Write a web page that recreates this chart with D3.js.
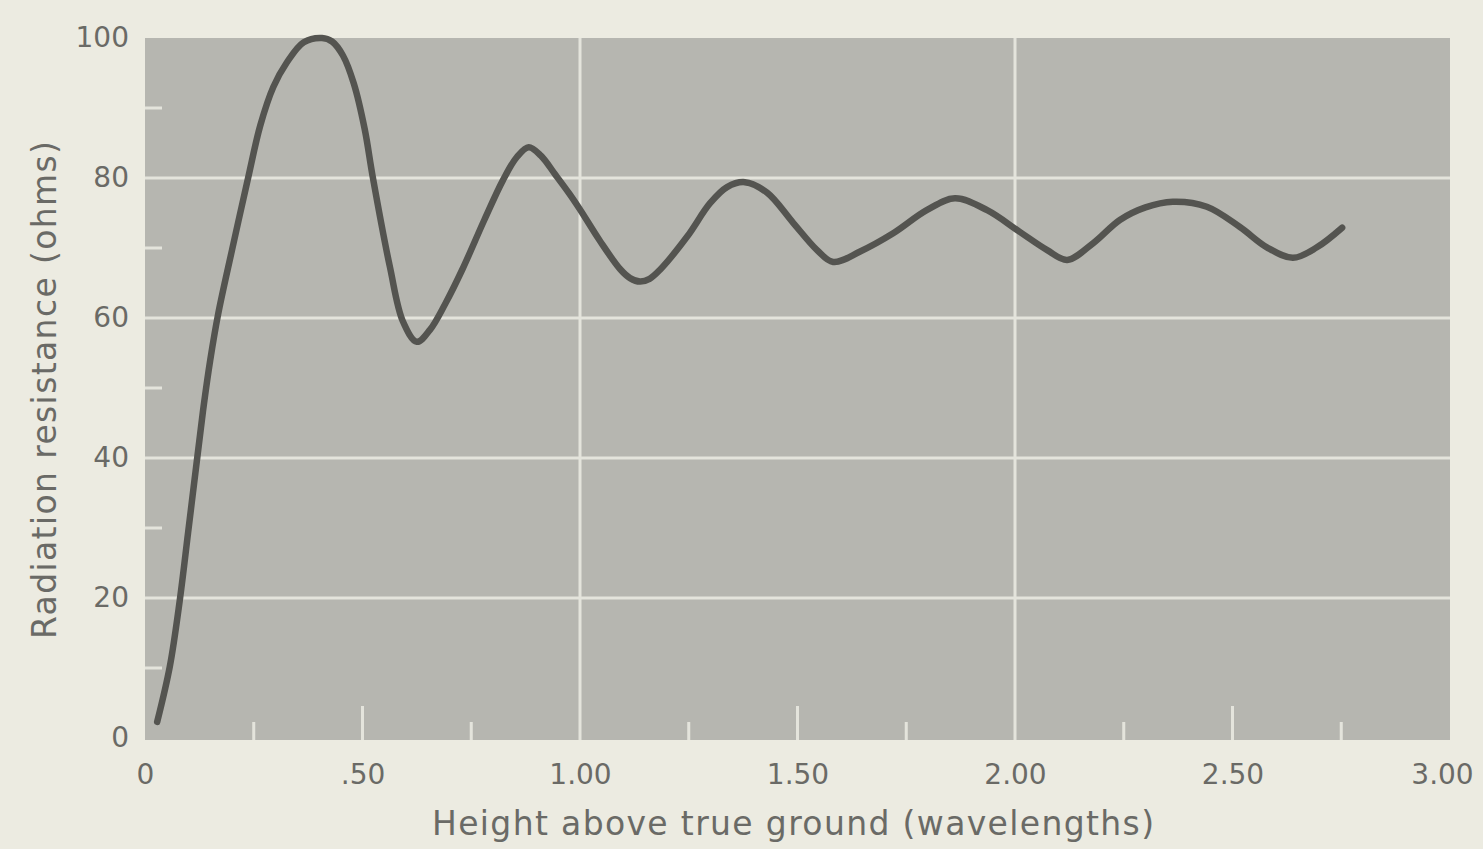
<!DOCTYPE html>
<html>
<head>
<meta charset="utf-8">
<script src="https://cdn.jsdelivr.net/npm/d3@7"></script>
<style>
  html, body { margin: 0; padding: 0; background: #ecebe1; }
  svg { display: block; }
  text { font-family: "DejaVu Sans", "Liberation Sans", Arial, sans-serif; }
</style>
</head>
<body>
<svg id="chart" width="1483" height="849"></svg>
<script>
// Data: height above ground (wavelengths) vs radiation resistance (ohms)
const heights = [0.028,0.057,0.08,0.099,0.12,0.135,0.15,0.168,0.2,0.237,0.265,0.295,0.326,0.365,0.407,0.43,0.455,0.48,0.505,0.524,0.563,0.593,0.625,0.655,0.69,0.73,0.78,0.823,0.855,0.882,0.91,0.943,0.975,1.0,1.046,1.092,1.115,1.138,1.16,1.184,1.246,1.299,1.338,1.379,1.43,1.49,1.545,1.582,1.644,1.72,1.797,1.862,1.936,2.011,2.074,2.12,2.18,2.241,2.3,2.363,2.441,2.517,2.579,2.639,2.694,2.752];
const resistance = [2.3,10.2,19.7,29.3,40,47.5,54,60.5,69.7,80,87.5,93,96.5,99.4,100,99.5,97.5,93.5,87,80,67.3,59.5,56.6,58.3,62,67,74,79.7,83,84.4,83.2,80.5,77.8,75.5,71.0,67.0,65.7,65.2,65.6,66.9,71.6,76.4,78.7,79.4,77.9,73.6,69.7,68,69.5,72.1,75.4,77.1,75.4,72.3,69.7,68.3,70.7,74,75.8,76.6,75.9,73,70.1,68.6,70.1,72.9];

const xTickValues = [0, 0.5, 1, 1.5, 2, 2.5, 3];
const xTickLabels = ["0", ".50", "1.00", "1.50", "2.00", "2.50", "3.00"];
const yTickValues = [0, 20, 40, 60, 80, 100];
const yTickLabels = ["0", "20", "40", "60", "80", "100"];
const xGridValues = [1, 2];
const yGridValues = [20, 40, 60, 80];
const yMinorValues = [10, 30, 50, 70, 90];
const xMinorValues = [0.25, 0.5, 0.75, 1.25, 1.5, 1.75, 2.25, 2.5, 2.75];

const xTitle = "Height above true ground (wavelengths)";
const yTitle = "Radiation resistance (ohms)";

const svg = d3.select("#chart");
const pLeft = 145, pRight = 1450, pTop = 38, pBottom = 738;

const x = d3.scaleLinear().domain([0, 3]).range([pLeft, pRight]);
const y = d3.scaleLinear().domain([0, 100]).range([pBottom, pTop]);

const fontFam = "DejaVu Sans, Liberation Sans, Arial, sans-serif";
const textColor = "#6a6a66";
const gridColor = "#e4e4dc";

// plot background
svg.append("rect")
  .attr("x", pLeft).attr("y", pTop)
  .attr("width", pRight - pLeft).attr("height", pBottom - pTop + 2)
  .attr("fill", "#b6b6b0");

// grid lines
svg.append("g").selectAll("line").data(yGridValues).join("line")
  .attr("x1", pLeft).attr("x2", pRight)
  .attr("y1", d => y(d)).attr("y2", d => y(d))
  .attr("stroke", gridColor).attr("stroke-width", 3);
svg.append("g").selectAll("line").data(xGridValues).join("line")
  .attr("x1", d => x(d)).attr("x2", d => x(d))
  .attr("y1", pTop).attr("y2", pBottom + 2)
  .attr("stroke", gridColor).attr("stroke-width", 3);

// minor ticks (inside plot)
svg.append("g").selectAll("line").data(yMinorValues).join("line")
  .attr("x1", pLeft).attr("x2", pLeft + 17)
  .attr("y1", d => y(d)).attr("y2", d => y(d))
  .attr("stroke", gridColor).attr("stroke-width", 3);
svg.append("g").selectAll("line").data(xMinorValues).join("line")
  .attr("x1", d => x(d)).attr("x2", d => x(d))
  .attr("y1", pBottom + 2).attr("y2", d => pBottom + 2 - (d % 0.5 === 0 ? 34 : 18))
  .attr("stroke", gridColor).attr("stroke-width", 3);

// axes (labels only)
const yAxis = d3.axisLeft(y).tickValues(yTickValues)
  .tickFormat((d, i) => yTickLabels[i]).tickSize(0).tickPadding(16);
const gy = svg.append("g").attr("transform", `translate(${pLeft},0)`).call(yAxis);
gy.select(".domain").remove();
gy.selectAll("text").attr("fill", textColor).attr("font-size", 28)
  .attr("font-family", fontFam);

const xAxis = d3.axisBottom(x).tickValues(xTickValues)
  .tickFormat((d, i) => xTickLabels[i]).tickSize(0).tickPadding(26);
const gx = svg.append("g").attr("transform", `translate(0,${pBottom})`).call(xAxis);
gx.select(".domain").remove();
gx.selectAll("text").attr("fill", textColor).attr("font-size", 28)
  .attr("font-family", fontFam)
  .attr("dx", (d, i) => i === xTickValues.length - 1 ? -8 : 0);

// curve
const pts = heights.map((h, i) => [h, resistance[i]]);
const line = d3.line().x(d => x(d[0])).y(d => y(d[1])).curve(d3.curveCatmullRom.alpha(0.5));
svg.append("path").datum(pts)
  .attr("d", line)
  .attr("fill", "none")
  .attr("stroke", "#545450")
  .attr("stroke-width", 6.5)
  .attr("stroke-linecap", "round")
  .attr("stroke-linejoin", "round");

// titles
svg.append("text")
  .attr("x", 793).attr("y", 835)
  .attr("text-anchor", "middle")
  .attr("fill", textColor).attr("font-size", 33)
  .attr("font-family", fontFam)
  .attr("textLength", 722).attr("lengthAdjust", "spacing")
  .text(xTitle);
svg.append("text")
  .attr("transform", "translate(56,390) rotate(-90)")
  .attr("text-anchor", "middle")
  .attr("fill", textColor).attr("font-size", 33)
  .attr("font-family", fontFam)
  .attr("textLength", 498).attr("lengthAdjust", "spacing")
  .text(yTitle);
</script>
</body>
</html>
